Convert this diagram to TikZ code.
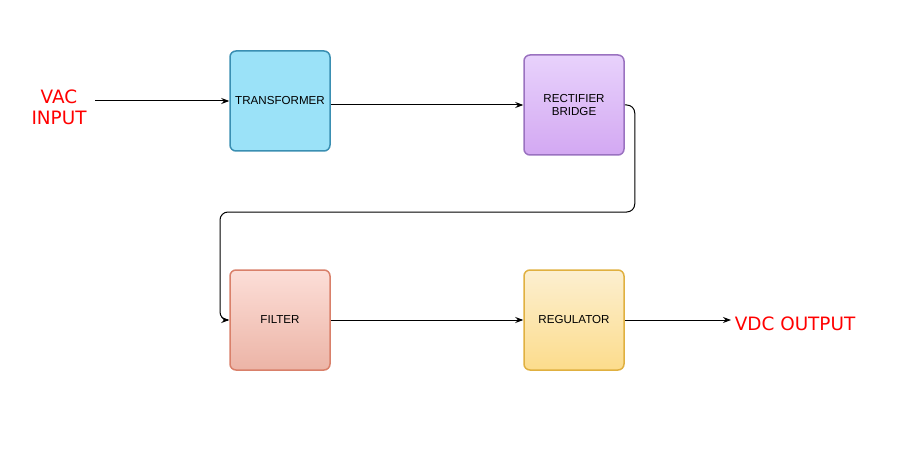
\documentclass[tikz,border=0pt]{standalone}
\usepackage{fontspec}
\setmainfont{Liberation Sans}
\newfontfamily\labelfont{DejaVu Sans}
\usepackage{xcolor}
\usetikzlibrary{arrows.meta}
\definecolor{trans_fill}{HTML}{9BE2F8}
\definecolor{trans_line}{HTML}{3A8FB2}
\definecolor{rect_top}{HTML}{E8D2FC}
\definecolor{rect_bot}{HTML}{D3A8F2}
\definecolor{rect_line}{HTML}{9A72C0}
\definecolor{filt_top}{HTML}{FCDED8}
\definecolor{filt_bot}{HTML}{ECB4A6}
\definecolor{filt_line}{HTML}{D9806A}
\definecolor{reg_top}{HTML}{FCEFD0}
\definecolor{reg_bot}{HTML}{FCDC8C}
\definecolor{reg_line}{HTML}{E0B040}
\tikzset{ block/.style = {rectangle, rounded corners=6pt, draw, line width=1.5pt, minimum width=100pt, minimum height=100pt, align=center, font=\fontsize{11.6}{13.5}\selectfont} }
\tikzset{ io_text/.style = {text=red, align=center, font=\labelfont\fontsize{18.4}{21}\selectfont} }
\tikzset{ every path/.style = {line width=1pt} }

\begin{document}
\begin{tikzpicture}[x=1pt, y=-1pt, >={Stealth[length=8pt,width=6pt]}]
    \useasboundingbox (0,0) rectangle (908,476);
    \node[io_text] (vac) at (59,107) {VAC\\INPUT};
    \node[block, fill=trans_fill, draw=trans_line] (trans) at (280,101) {TRANSFORMER};
    \node[block, top color=rect_top, bottom color=rect_bot, draw=rect_line] (rect) at (574,105) {RECTIFIER\\BRIDGE};
    \node[block, top color=filt_top, bottom color=filt_bot, draw=filt_line] (filt) at (280,320) {FILTER};
    \node[block, top color=reg_top, bottom color=reg_bot, draw=reg_line] (reg) at (574,320) {REGULATOR};
    \node[io_text, anchor=west] (vdc) at (731,324) {VDC OUTPUT};
    \coordinate (in_start) at (95,101);
    \coordinate (bend) at (220,212);
    \coordinate (out_end) at (731,320);
    \draw[->] (in_start) -- (trans.west);
    \draw[->] (trans.east |- rect.west) -- (rect.west);
    \draw[->, rounded corners=8pt] (rect.east) -- ++(10,0) |- (bend) |- (filt.west);
    \draw[->] (filt.east) -- (reg.west);
    \draw[->] (reg.east) -- (out_end);
    \end{tikzpicture}
\end{document}
